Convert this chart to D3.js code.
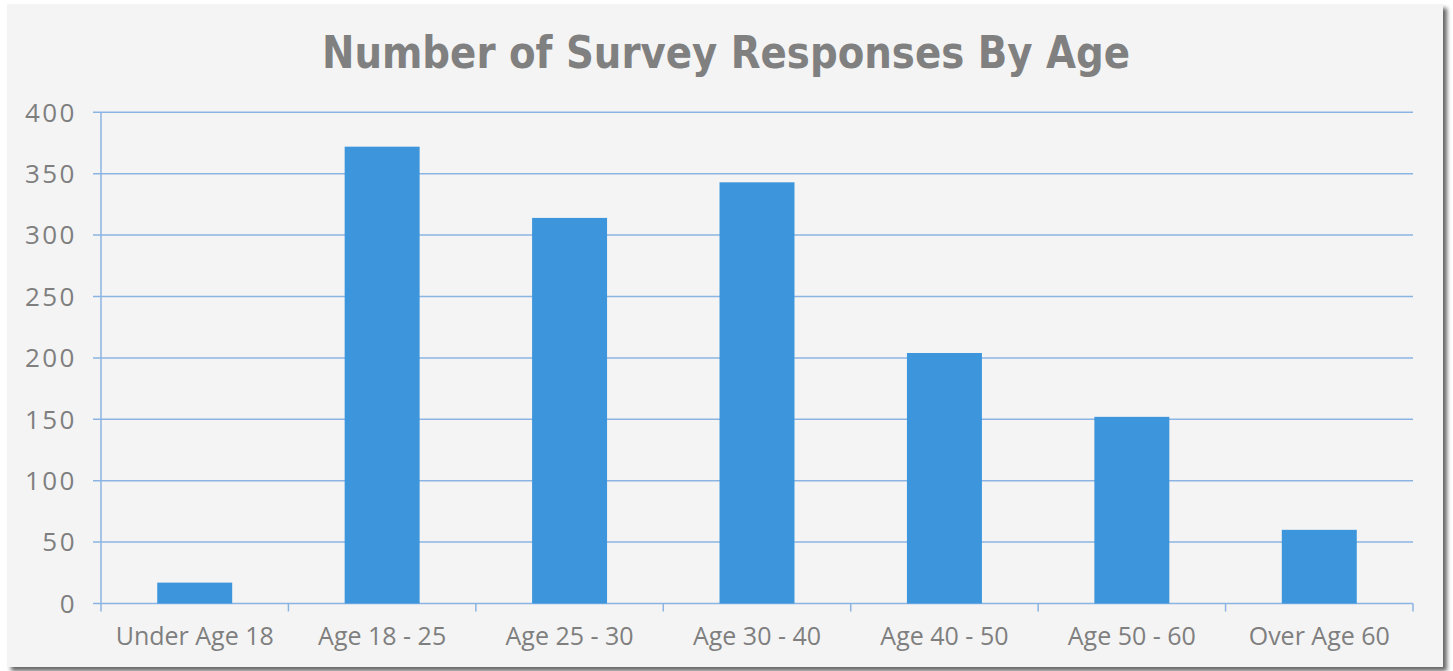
<!DOCTYPE html>
<html><head><meta charset="utf-8">
<script src="https://cdn.jsdelivr.net/npm/d3@7"></script>
<style>html,body{margin:0;padding:0;background:#fff;}</style>
</head><body>
<script>
const categories = ["Under Age 18","Age 18 - 25","Age 25 - 30","Age 30 - 40","Age 40 - 50","Age 50 - 60","Over Age 60"];
const responses = [17, 372, 314, 343, 204, 152, 60];
const yTicks = [0,50,100,150,200,250,300,350,400];
const title = "Number of Survey Responses By Age";

(function(){
const W = 1453, H = 671;
const svg = d3.select("body").append("svg").attr("width", W).attr("height", H);
const defs = svg.append("defs");
const f = defs.append("filter").attr("id","sh").attr("x","-5%").attr("y","-5%").attr("width","110%").attr("height","110%");
f.append("feGaussianBlur").attr("in","SourceAlpha").attr("stdDeviation",2);
f.append("feOffset").attr("dx",4).attr("dy",4).attr("result","b");
f.append("feComponentTransfer").append("feFuncA").attr("type","linear").attr("slope",0.6);
const m = f.append("feMerge"); m.append("feMergeNode"); m.append("feMergeNode").attr("in","SourceGraphic");

svg.append("rect").attr("x",7).attr("y",4).attr("width",1436).attr("height",663)
  .attr("fill","#f4f4f4").attr("filter","url(#sh)");

const pL = 101, pR = 1413, pT = 112.3, pB = 603.5;
const x = d3.scaleBand().domain(categories).range([pL,pR]).paddingInner(0.6).paddingOuter(0.3);
const xb = d3.scaleBand().domain(categories).range([pL,pR]);
const y = d3.scaleLinear().domain([0,400]).range([pB,pT]);

const gridColor = "#8cb4e2";
svg.append("g").selectAll("line").data(yTicks).join("line")
  .attr("x1", pL-8).attr("x2", pR).attr("y1", d=>y(d)).attr("y2", d=>y(d))
  .attr("stroke", gridColor).attr("stroke-width", 1.5);

svg.append("line").attr("x1",pL).attr("x2",pL).attr("y1",pT).attr("y2",pB+8)
  .attr("stroke",gridColor).attr("stroke-width",1.5);
const bounds = categories.map(c=>xb(c)).concat([pR]);
svg.append("g").selectAll("line").data(bounds.slice(1)).join("line")
  .attr("x1",d=>d).attr("x2",d=>d).attr("y1",pB).attr("y2",pB+8)
  .attr("stroke",gridColor).attr("stroke-width",1.5);

svg.append("g").selectAll("rect").data(responses).join("rect")
  .attr("x",(d,i)=>x(categories[i])).attr("width",x.bandwidth())
  .attr("y",d=>y(d)).attr("height",d=>pB-y(d))
  .attr("fill","#3d96dc");

const font = "'Open Sans', Lato, sans-serif";
svg.append("g").selectAll("text").data(yTicks).join("text")
  .attr("x",77).attr("y",d=>y(d)).attr("dy","0.36em").attr("text-anchor","end")
  .attr("font-family",font).attr("font-size",26).attr("letter-spacing",2.5)
  .attr("fill","#7f7f7f").text(d=>d);

svg.append("g").selectAll("text").data(categories).join("text")
  .attr("x",d=>xb(d)+xb.bandwidth()/2).attr("y",645).attr("text-anchor","middle")
  .attr("font-family",font).attr("font-size",25).attr("fill","#7f7f7f").text(d=>d);

svg.append("text").attr("x",726).attr("y",68).attr("text-anchor","middle")
  .attr("font-family","'DejaVu Sans Condensed',sans-serif")
  .attr("font-weight","bold").attr("font-size",45).attr("fill","#808080")
  .attr("textLength",808).attr("lengthAdjust","spacingAndGlyphs").text(title);
})();
</script>
</body></html>
